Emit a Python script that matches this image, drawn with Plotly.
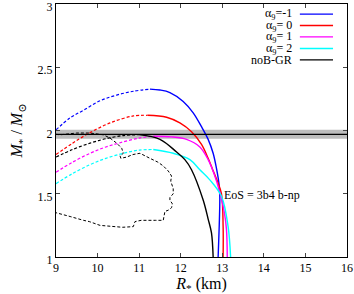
import plotly.graph_objects as go

# ---------------- data ----------------
labels = ["α<sub>9</sub>=-1", "α<sub>9</sub>= 0", "α<sub>9</sub>= 1", "α<sub>9</sub>= 2", "noB-GR"]
colors = ["#0000ff", "#ff0000", "#ff00ff", "#00ffff", "#000000"]

blue_dash_R = [9.0, 9.34, 9.66, 10.06, 10.46, 10.86, 11.26]
blue_dash_M = [2.005, 2.10, 2.16, 2.235, 2.28, 2.31, 2.327]
blue_sol_R = [11.26, 11.5, 11.74, 12.06, 12.30, 12.50, 12.66, 12.78, 12.86, 12.92, 12.94, 12.93, 12.90]
blue_sol_M = [2.327, 2.32, 2.30, 2.23, 2.14, 2.03, 1.93, 1.82, 1.70, 1.58, 1.48, 1.29, 1.00]

red_dash_R = [9.0, 9.4, 9.8, 10.3, 10.86, 11.2]
red_dash_M = [1.81, 1.90, 1.98, 2.06, 2.115, 2.12]
red_sol_R = [11.2, 11.66, 11.98, 12.26, 12.50, 12.66, 12.77, 12.88, 12.98, 13.02, 13.02]
red_sol_M = [2.12, 2.105, 2.06, 1.99, 1.89, 1.78, 1.69, 1.60, 1.50, 1.24, 1.00]

mag_dash_R = [9.0, 9.4, 9.82, 10.2, 10.62, 11.0, 11.34]
mag_dash_M = [1.67, 1.75, 1.82, 1.87, 1.91, 1.94, 1.955]
mag_sol_R = [11.34, 11.78, 12.14, 12.46, 12.66, 12.80, 12.95, 13.05, 13.10, 13.12]
mag_sol_M = [1.955, 1.95, 1.93, 1.87, 1.77, 1.66, 1.50, 1.35, 1.22, 1.00]

cyan_dash_R = [9.0, 9.4, 9.82, 10.2, 10.62, 11.0, 11.34]
cyan_dash_M = [1.58, 1.66, 1.73, 1.78, 1.82, 1.845, 1.85]
cyan_sol_R = [11.34, 11.82, 12.22, 12.46, 12.70, 12.98, 13.14, 13.20]
cyan_sol_M = [1.85, 1.82, 1.77, 1.69, 1.61, 1.48, 1.24, 1.00]

black_dash_R = [9.0, 9.4, 9.82, 10.2, 10.62, 11.0]
black_dash_M = [1.79, 1.85, 1.90, 1.935, 1.96, 1.967]
black_sol_R = [11.0, 11.5, 11.9, 12.1, 12.26, 12.54, 12.66, 12.74, 12.78]
black_sol_M = [1.967, 1.93, 1.83, 1.77, 1.69, 1.45, 1.30, 1.19, 1.00]

contour_R = [9.0, 9.1, 9.5, 9.82, 10.14, 10.3, 10.46, 10.58, 10.62, 10.54, 10.56, 10.7, 10.85,
             11.02, 11.26, 11.45, 11.58, 11.7, 11.78, 11.76, 11.78, 11.82, 11.82, 11.74, 11.74,
             11.80, 11.78, 11.70, 11.62, 11.58, 11.40, 11.26, 11.05, 10.9, 10.86, 10.6, 10.46,
             10.2, 10.06, 9.8, 9.66, 9.34, 9.1, 9.0]
contour_M = [1.97, 1.966, 1.98, 1.98, 1.966, 1.94, 1.90, 1.86, 1.82, 1.80, 1.78, 1.79, 1.81,
             1.82, 1.78, 1.75, 1.72, 1.68, 1.64, 1.60, 1.58, 1.54, 1.50, 1.47, 1.45,
             1.42, 1.39, 1.37, 1.36, 1.29, 1.29, 1.29, 1.29, 1.28, 1.24, 1.235, 1.24,
             1.25, 1.25, 1.28, 1.29, 1.32, 1.34, 1.35]

obs_mass = 1.97
obs_err = 0.035

xtick_vals = [9, 10, 11, 12, 13, 14, 15, 16]
ytick_vals = [1, 1.5, 2, 2.5, 3]
ytick_text = ["1", "1.5", "2", "2.5", "3"]

curves = [
    (blue_dash_R, blue_dash_M, blue_sol_R, blue_sol_M),
    (red_dash_R, red_dash_M, red_sol_R, red_sol_M),
    (mag_dash_R, mag_dash_M, mag_sol_R, mag_sol_M),
    (cyan_dash_R, cyan_dash_M, cyan_sol_R, cyan_sol_M),
    (black_dash_R, black_dash_M, black_sol_R, black_sol_M),
]

FONT = "Liberation Serif, DejaVu Serif, serif"
fig = go.Figure()

# observational band
fig.add_hrect(y0=obs_mass - obs_err, y1=obs_mass + obs_err, fillcolor="#bdbdbd",
              opacity=1, line_width=0, layer="below")
fig.add_hline(y=obs_mass, line=dict(color="black", width=1.3))

# contour region
fig.add_trace(go.Scatter(x=contour_R, y=contour_M, mode="lines",
                         line=dict(color="black", width=1, dash="3px,2px"),
                         showlegend=False, hoverinfo="skip"))

for (dR, dM, sR, sM), c in zip(curves, colors):
    fig.add_trace(go.Scatter(x=dR, y=dM, mode="lines", line_shape="spline",
                             line=dict(color=c, width=1.2, dash="3px,2px"),
                             showlegend=False, hoverinfo="skip"))
    fig.add_trace(go.Scatter(x=sR, y=sM, mode="lines", line_shape="spline",
                             line=dict(color=c, width=1.4),
                             showlegend=False, hoverinfo="skip"))

# manual legend (text left of line sample, gnuplot style)
leg_y = [0.960, 0.915, 0.870, 0.824, 0.779]
for lab, c, yy in zip(labels, colors, leg_y):
    fig.add_annotation(x=0.818, y=yy, xref="paper", yref="paper", text=lab,
                       showarrow=False, xanchor="right", yanchor="middle",
                       font=dict(family=FONT, size=12, color="black"))
    fig.add_shape(type="line", xref="paper", yref="paper", x0=0.838, x1=0.952,
                  y0=yy, y1=yy, line=dict(color=c, width=1.4))

fig.add_annotation(x=13.0, y=1.49, text="EoS = 3b4 b-np", showarrow=False,
                   xanchor="left", yanchor="middle",
                   font=dict(family=FONT, size=12, color="black"))

fig.update_layout(
    width=354, height=294,
    margin=dict(l=56, r=7, t=4, b=37, autoexpand=False),
    paper_bgcolor="white", plot_bgcolor="white",
    font=dict(family=FONT, size=12, color="black"),
    showlegend=False,
)
fig.update_xaxes(range=[9, 16], tickvals=xtick_vals, ticks="inside", ticklen=4,
                 showgrid=False, zeroline=False, showline=True, linecolor="black",
                 linewidth=1, mirror="ticks", automargin=False,
                 tickfont=dict(family=FONT, size=12),
                 title=dict(text="<i>R</i><sub>*</sub> (km)",
                            font=dict(family=FONT, size=16), standoff=2))
fig.update_yaxes(range=[1, 3], tickvals=ytick_vals, ticktext=ytick_text, ticks="inside",
                 ticklen=4, showgrid=False, zeroline=False, showline=True, linecolor="black",
                 linewidth=1, mirror="ticks", automargin=False, ticklabeloverflow="allow",
                 ticklabelshift=3,
                 tickfont=dict(family=FONT, size=12),
                 title=dict(text="<i>M</i><sub>*</sub> / <i>M</i><sub>⊙</sub>",
                            font=dict(family=FONT, size=16), standoff=10))

fig.write_html("out.html", config={"displayModeBar": False},
               post_script="document.body.style.margin='0';document.body.style.overflow='hidden';")
